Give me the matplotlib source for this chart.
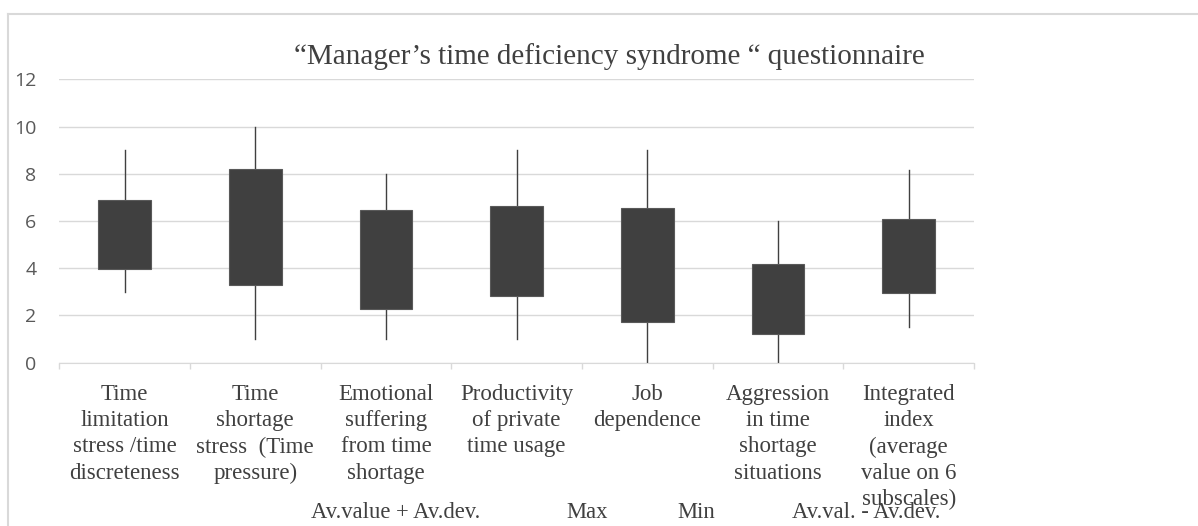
import matplotlib.pyplot as plt
from matplotlib.lines import Line2D
from matplotlib.patches import Rectangle

# data
categories = [
    "Time\nlimitation\nstress /time\ndiscreteness",
    "Time\nshortage\nstress  (Time\npressure)",
    "Emotional\nsuffering\nfrom time\nshortage",
    "Productivity\nof private\ntime usage",
    "Job\ndependence",
    "Aggression\nin time\nshortage\nsituations",
    "Integrated\nindex\n(average\nvalue on 6\nsubscales)",
]
upper = [6.87, 8.22, 6.46, 6.63, 6.57, 4.17, 6.08]   # Av.value + Av.dev.
max_vals = [9, 10, 8, 9, 9, 6, 8.15]
min_vals = [3, 1, 1, 1, 0, 0, 1.5]
lower = [3.97, 3.27, 2.28, 2.84, 1.73, 1.23, 2.97]   # Av.val. - Av.dev.
legend_labels = ["Av.value + Av.dev.", "Max", "Min", "Av.val. - Av.dev."]
yticks = [0, 2, 4, 6, 8, 10, 12]

W, H = 1198, 526
fig = plt.figure(figsize=(W / 100, H / 100), dpi=100)
ax = fig.add_axes([59.3 / W, 1 - 362.7 / H, (974 - 59.3) / W, (362.7 - 79.3) / H])

serif = "Liberation Serif"
txt_col = "#404040"
grid_col = "#d9d9d9"
box_col = "#404040"

# outer chart frame (cropped on right and bottom)
fig.add_artist(Line2D([8 / W, 1], [1 - 14 / H, 1 - 14 / H], color=grid_col, lw=1.5,
                      transform=fig.transFigure))
fig.add_artist(Line2D([8 / W, 8 / W], [0, 1 - 14 / H], color=grid_col, lw=1.5,
                      transform=fig.transFigure))

n = len(categories)
xs = range(n)
bw = 0.405
for i in xs:
    ax.plot([i, i], [min_vals[i], max_vals[i]], color="#404040", lw=1.0, zorder=2)
    ax.add_patch(Rectangle((i - bw / 2, lower[i]), bw, upper[i] - lower[i],
                           facecolor=box_col, edgecolor="#595959", lw=0.8, zorder=3))

ax.set_xlim(-0.5, n - 0.5)
ax.set_ylim(0, 12)
ax.set_yticks(yticks)
ax.set_yticklabels([str(t) for t in yticks], fontfamily="Open Sans", fontsize=14, color="#595959")
ax.yaxis.grid(True, color=grid_col, lw=1.0)
ax.set_axisbelow(True)
ax.tick_params(axis="y", length=0, pad=16.5)

ax.set_xticks([i + 0.5 for i in range(-1, n)])
ax.set_xticklabels([])
ax.tick_params(axis="x", length=4.5, color=grid_col, width=1.0)
for i, lab in enumerate(categories):
    ax.annotate(lab, xy=(i, 0), xycoords=("data", "axes fraction"),
                xytext=(0, -15.5), textcoords="offset points",
                ha="center", va="top", fontfamily=serif, fontsize=16.5,
                color=txt_col, linespacing=1.32)

for s in ["top", "right", "left"]:
    ax.spines[s].set_visible(False)
ax.spines["bottom"].set_color(grid_col)

fig.text(609 / W, 1 - 57 / H, "\u201cManager\u2019s time deficiency syndrome \u201c questionnaire",
         ha="center", va="center", fontfamily=serif, fontsize=21, color=txt_col)

# legend (text only, no markers)
leg_x = [396, 587, 696, 866]
for x, lab in zip(leg_x, legend_labels):
    fig.text(x / W, 1 - 512 / H, lab, ha="center", va="center", fontfamily=serif,
             fontsize=16.3, color=txt_col)

fig.savefig("out.png", dpi=100)
